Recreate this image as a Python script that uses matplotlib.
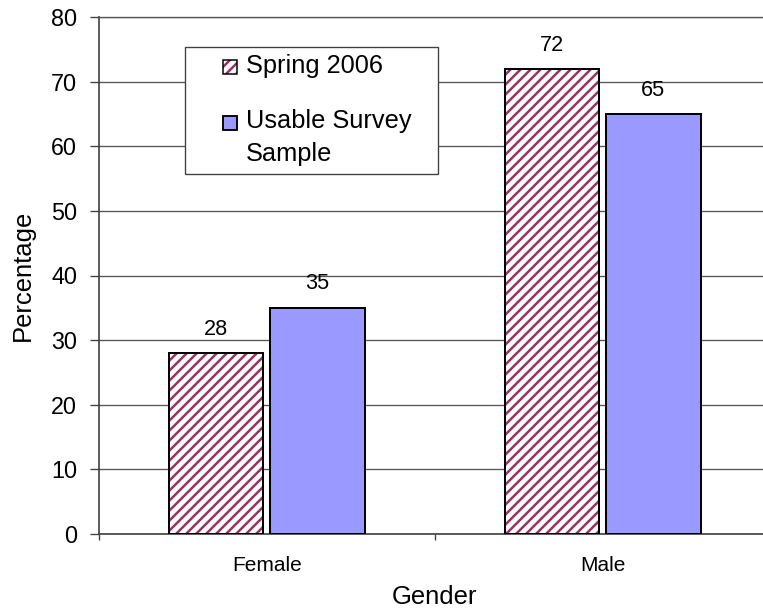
import matplotlib
matplotlib.use("Agg")
import matplotlib.pyplot as plt
from matplotlib.patches import Rectangle
import numpy as np

# Data
categories = ["Female", "Male"]
spring_2006 = [28, 72]
usable_sample = [35, 65]
series_names = ["Spring 2006", "Usable Survey\nSample"]
y_ticks = [0, 10, 20, 30, 40, 50, 60, 70, 80]

# Styling
HATCH_COLOR = "#993366"
BLUE = "#9999FF"
GRID = "#555555"
DPI = 120
W, H = 763, 612

plt.rcParams["font.family"] = ["Liberation Sans", "DejaVu Sans"]
plt.rcParams["hatch.linewidth"] = 1.5

fig = plt.figure(figsize=(W / DPI, H / DPI), dpi=DPI, facecolor="white")


def px(x, y):
    """Pixel position (from top-left) to figure fraction."""
    return x / W, 1 - y / H


# Axes box (extends slightly past the right edge, as the category axis does)
ax_left, ax_top, ax_right, ax_bottom = 98.7, 17.3, 770.7, 533.7
ax = fig.add_axes([ax_left / W, 1 - ax_bottom / H,
                   (ax_right - ax_left) / W, (ax_bottom - ax_top) / H])

x = np.arange(len(categories))
bar_w = 0.282
offset = 0.151

# Hatched series: hatch drawn in plum, outline in black on top
ax.bar(x - offset, spring_2006, bar_w, facecolor="white",
       edgecolor=HATCH_COLOR, hatch="////", linewidth=0, zorder=2)
ax.bar(x - offset, spring_2006, bar_w, fill=False,
       edgecolor="black", linewidth=1.2, zorder=3)
ax.bar(x + offset, usable_sample, bar_w, facecolor=BLUE,
       edgecolor="black", linewidth=1.2, zorder=3)

# Value labels
for xs, vals in ((x - offset, spring_2006), (x + offset, usable_sample)):
    for xi, v in zip(xs, vals):
        ax.annotate(f"{v}", (xi, v), xytext=(0, 11.0), textcoords="offset points",
                    ha="center", va="baseline", fontsize=13, color="black")

ax.set_xlim(-0.5, len(categories) - 0.5)
ax.set_ylim(0, 80)
ax.set_yticks(y_ticks)
ax.yaxis.grid(True, color=GRID, linewidth=0.8)
ax.set_axisbelow(True)

ax.spines["right"].set_visible(False)
ax.spines["top"].set_color(GRID)
ax.spines["top"].set_linewidth(0.8)
for side in ("left", "bottom"):
    ax.spines[side].set_color("#404040")
    ax.spines[side].set_linewidth(1.0)

ax.tick_params(axis="y", direction="out", length=5.2, width=0.8,
               color="#404040", pad=7.8, labelsize=14)
ax.set_xticks(x, categories)
ax.tick_params(axis="x", which="major", length=0, pad=13.5, labelsize=12.5)
ax.set_xticks(np.arange(-0.5, len(categories)), minor=True)
ax.tick_params(axis="x", which="minor", direction="out", length=3.6,
               width=0.8, color="#404040")

ax.set_ylabel("Percentage", fontsize=15.4, va="center")
ax.yaxis.set_label_coords((22.5 - ax_left) / (ax_right - ax_left), 0.5)
ax.set_xlabel("Gender", fontsize=15.4, va="center")
ax.xaxis.set_label_coords(0.5, (ax_bottom - 597) / (ax_bottom - ax_top))

# Legend box
lx0, ly0, lx1, ly1 = 185, 47, 438, 174
fx, fy = px(lx0, ly1)
fig.add_artist(Rectangle((fx, fy), (lx1 - lx0) / W, (ly1 - ly0) / H,
                         transform=fig.transFigure, facecolor="white",
                         edgecolor="#404040", linewidth=0.8, zorder=5))

sq = 14
# (square top, square style, baseline of the label's last line)
entries = [
    (60, dict(facecolor="white", edgecolor=HATCH_COLOR, hatch="////", linewidth=0), 73.3),
    (116, dict(facecolor=BLUE, edgecolor="black", linewidth=0.9), 160.7),
]
for (top, style, base), name in zip(entries, series_names):
    sx, sy = px(222.7, top + sq)
    fig.add_artist(Rectangle((sx, sy), sq / W, sq / H, transform=fig.transFigure,
                             zorder=6, **style))
    fig.add_artist(Rectangle((sx, sy), sq / W, sq / H, transform=fig.transFigure,
                             fill=False, edgecolor="black", linewidth=0.9, zorder=7))
    tx, ty = px(246, base)
    fig.text(tx, ty, name, ha="left", va="baseline", fontsize=15.2,
             linespacing=1.46, zorder=8)

fig.savefig("out.png", dpi=DPI, facecolor="white")
